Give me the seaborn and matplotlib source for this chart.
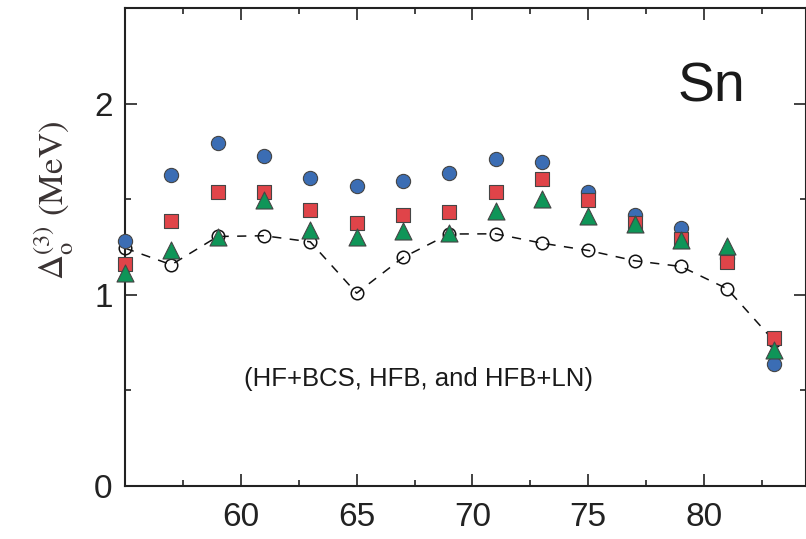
import matplotlib
matplotlib.use("Agg")
import matplotlib.pyplot as plt
from matplotlib.ticker import MultipleLocator
import seaborn as sns
import pandas as pd

# Neutron number of the odd Sn isotopes
neutrons = [55, 57, 59, 61, 63, 65, 67, 69, 71, 73, 75, 77, 79, 81, 83]

# Odd-even mass staggering Delta_o^(3) (MeV)
hf_bcs = [1.282, 1.625, 1.795, 1.724, 1.609, 1.567, 1.593, 1.635, 1.711, 1.697,
          1.536, 1.419, 1.349, 1.190, 0.638]
hfb = [1.160, 1.387, 1.539, 1.539, 1.445, 1.377, 1.419, 1.431, 1.536, 1.606,
       1.497, 1.378, 1.291, 1.174, 0.773]
hfb_ln = [1.116, 1.235, 1.302, 1.494, 1.340, 1.302, 1.335, 1.323, 1.441, 1.503,
          1.414, 1.372, 1.288, 1.253, 0.711]
experiment = [1.244, 1.157, 1.305, 1.309, 1.277, 1.008, 1.195, 1.318, 1.319, 1.270,
              1.232, 1.178, 1.148, 1.031, 0.760]

x_ticks = [60, 65, 70, 75, 80]
y_ticks = [0, 1, 2]

df = pd.DataFrame({"N": neutrons, "HF+BCS": hf_bcs, "HFB": hfb,
                   "HFB+LN": hfb_ln, "exp": experiment})

sns.set_style("ticks")
plt.rcParams["font.family"] = ["Liberation Sans", "DejaVu Sans"]
plt.rcParams["mathtext.fontset"] = "stix"

fig = plt.figure(figsize=(8.06, 5.39), dpi=100)
ax = fig.add_axes([0.1551, 0.0989, 0.8449, 0.8857])

# experimental values: open circles joined by a dashed line
sns.lineplot(data=df, x="N", y="exp", ax=ax, color="#111111", linewidth=1.1,
             linestyle=(0, (6, 5.5)), marker="o", markersize=9,
             markerfacecolor="none", markeredgecolor="#111111",
             markeredgewidth=1.1, zorder=2, clip_on=False)

edge = "#454545"
sns.scatterplot(data=df, x="N", y="HF+BCS", ax=ax, marker="o", s=105,
                color="#3b6db4", edgecolor=edge, linewidth=0.8, zorder=3,
                clip_on=False)
sns.scatterplot(data=df, x="N", y="HFB", ax=ax, marker="s", s=100,
                color="#e04449", edgecolor=edge, linewidth=0.8, zorder=4,
                clip_on=False)
sns.scatterplot(data=df, x="N", y="HFB+LN", ax=ax, marker="^", s=150,
                color="#0f9558", edgecolor=edge, linewidth=0.8, zorder=5,
                clip_on=False)

ax.set_xlim(55, 84.4)
ax.set_ylim(0, 2.5)
ax.set_xticks(x_ticks)
ax.set_yticks(y_ticks)
ax.xaxis.set_minor_locator(MultipleLocator(2.5))
ax.yaxis.set_minor_locator(MultipleLocator(0.5))

for side in ax.spines.values():
    side.set_linewidth(1.5)
    side.set_color("#222222")
    side.set_zorder(1)

ax.tick_params(which="both", direction="in", top=True, right=True,
               color="#222222", width=1.2)
ax.tick_params(which="major", length=8.5, labelsize=24, labelcolor="#222222")
ax.tick_params(axis="x", which="major", pad=12)
ax.tick_params(axis="y", which="major", pad=9)
ax.tick_params(which="minor", length=4.5)

ax.set_xlabel("")
ax.set_ylabel(r"$\Delta_{\rm o}^{(3)}$ (MeV)", fontsize=25, color="#3a3333",
              family="STIXGeneral", va="center")
ax.yaxis.set_label_coords(-0.103, 0.598)

ax.text(80.33, 2.085, "Sn", fontsize=40, ha="center", va="center",
        color="#1a1a1a")
ax.text(67.65, 0.557, "(HF+BCS, HFB, and HFB+LN)", fontsize=18.5,
        ha="center", va="center", color="#1a1a1a")

fig.savefig("out.png", dpi=100)
